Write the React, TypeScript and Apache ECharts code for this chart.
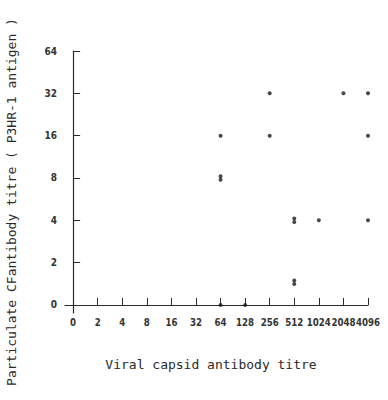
import React, { useEffect, useRef } from "react";
import * as echarts from "echarts";

const xTickLabels = ["0", "2", "4", "8", "16", "32", "64", "128", "256", "512", "1024", "2048", "4096"];
const yTickLabels = ["0", "2", "4", "8", "16", "32", "64"];

// Viral capsid antibody titre (x), particulate CF antibody titre (y), number of sera
const xTitre = [256, 2048, 4096, 64, 256, 4096, 64, 512, 1024, 4096, 512, 64, 128];
const yTitre = [32, 32, 32, 16, 16, 16, 8, 4, 4, 4, 1.45, 0, 0];
const counts = [1, 1, 1, 1, 1, 1, 2, 2, 1, 1, 2, 1, 1];

const xTitle = "Viral capsid antibody titre";
const yTitle = "Particulate CFantibody titre ( P3HR-1 antigen )";

const pos = (v: number) => (v <= 0 ? 0 : Math.log2(v));

export default function App() {
  const ref = useRef<HTMLDivElement>(null);
  useEffect(() => {
    if (!ref.current) return;
    const chart = echarts.init(ref.current, null, { renderer: "svg" });
    const data: any[] = [];
    xTitre.forEach((xv, i) => {
      const n = counts[i];
      for (let k = 0; k < n; k++) {
        data.push({
          value: [pos(xv), pos(yTitre[i])],
          symbolOffset: [0, (k - (n - 1) / 2) * 3.5],
        });
      }
    });
    const ink = "#2a2a2a";
    const labelFont = "'DejaVu Sans Condensed', 'DejaVu Sans', sans-serif";
    const titleFont = "'DejaVu Sans Mono', monospace";
    chart.setOption({
      animation: false,
      backgroundColor: "#ffffff",
      grid: { left: 65, right: 20, top: 51, bottom: 87, containLabel: false },
      xAxis: {
        type: "value",
        min: -0.33,
        max: 12,
        splitLine: { show: false },
        axisLine: { show: true, lineStyle: { color: ink, width: 1.2 } },
        axisTick: {
          show: true,
          inside: true,
          length: 7,
          lineStyle: { color: ink, width: 1 },
          customValues: xTickLabels.map((_, i) => i),
        },
        axisLabel: {
          show: true,
          margin: 4,
          fontSize: 9.6,
          fontWeight: "bold",
          fontFamily: labelFont,
          color: "#333",
          interval: 0,
          hideOverlap: false,
          showMinLabel: true,
          showMaxLabel: true,
          customValues: xTickLabels.map((_, i) => i),
          formatter: (v: number) => xTickLabels[Math.round(v)] ?? "",
        },
      },
      yAxis: {
        type: "value",
        min: -0.19,
        max: 6,
        splitLine: { show: false },
        axisLine: { show: true, lineStyle: { color: ink, width: 1.2 } },
        axisTick: {
          show: true,
          inside: true,
          length: 7,
          lineStyle: { color: ink, width: 1 },
          customValues: yTickLabels.map((_, i) => i),
        },
        axisLabel: {
          show: true,
          margin: 8,
          fontSize: 10,
          fontWeight: "bold",
          fontFamily: labelFont,
          color: "#333",
          hideOverlap: false,
          showMinLabel: true,
          showMaxLabel: true,
          customValues: yTickLabels.map((_, i) => i),
          formatter: (v: number) => yTickLabels[Math.round(v)] ?? "",
        },
      },
      series: [
        {
          type: "scatter",
          symbol: "circle",
          symbolSize: 4,
          itemStyle: { color: "#1a1a1a" },
          data,
        },
      ],
      graphic: [
        {
          type: "text",
          x: 211,
          y: 364,
          style: {
            text: xTitle,
            fill: ink,
            fontSize: 13,
            fontFamily: titleFont,
            align: "center",
            verticalAlign: "middle",
          },
        },
        {
          type: "text",
          x: 11,
          y: 202,
          rotation: Math.PI / 2,
          style: {
            text: yTitle,
            fill: ink,
            fontSize: 13,
            fontFamily: titleFont,
            align: "center",
            verticalAlign: "middle",
          },
        },
      ],
    });
    return () => chart.dispose();
  }, []);
  return (
    <div
      ref={ref}
      style={{ position: "fixed", left: 0, top: 0, width: 388, height: 400 }}
    />
  );
}
